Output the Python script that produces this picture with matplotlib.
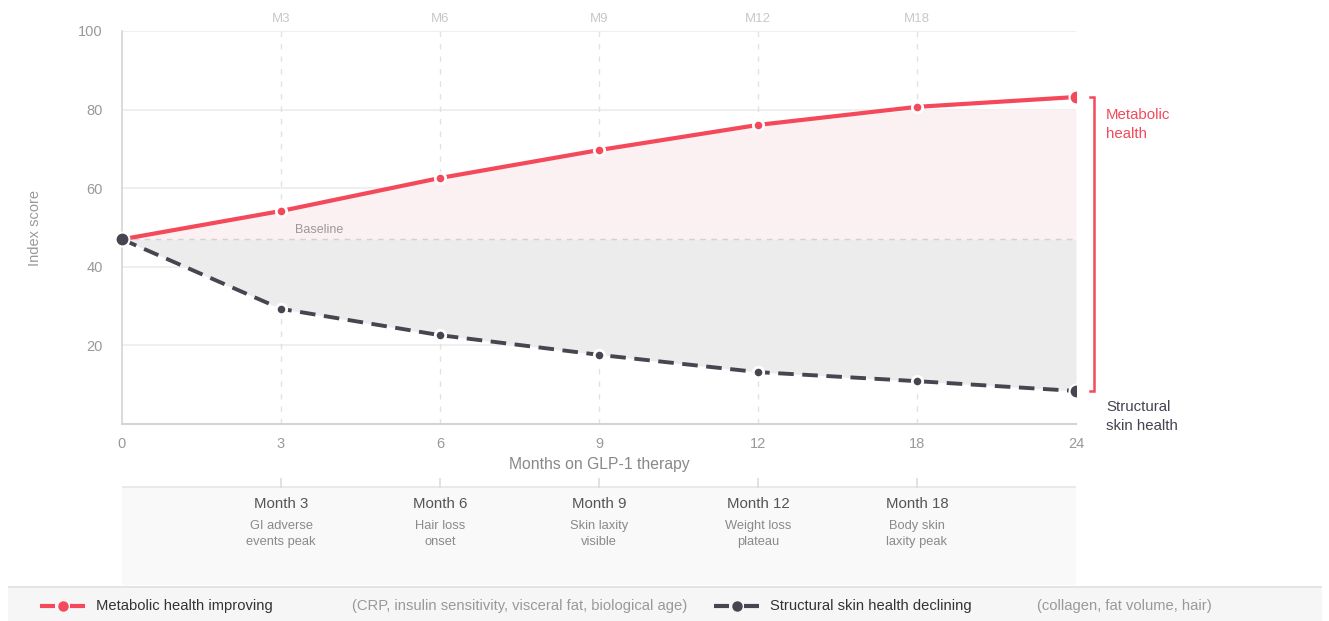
import matplotlib
matplotlib.use("Agg")
import matplotlib.pyplot as plt
from matplotlib.lines import Line2D
import numpy as np

plt.rcParams['font.family'] = ['Liberation Sans', 'DejaVu Sans']

# ---- data ----
months = [0, 3, 6, 9, 12, 18, 24]
metabolic = [47, 54.2, 62.6, 69.7, 76.1, 80.7, 83.2]
skin = [47, 29.3, 22.6, 17.6, 13.2, 10.9, 8.4]
baseline = 47
top_labels = ["M3", "M6", "M9", "M12", "M18"]
event_titles = ["Month 3", "Month 6", "Month 9", "Month 12", "Month 18"]
event_notes = ["GI adverse\nevents peak", "Hair loss\nonset", "Skin laxity\nvisible",
               "Weight loss\nplateau", "Body skin\nlaxity peak"]
y_ticks = [20, 40, 60, 80, 100]

RED = "#f4495b"
DARK = "#464650"
W, H = 1329, 621

fig = plt.figure(figsize=(W / 100, H / 100), dpi=100)
fig.patch.set_facecolor("white")

def fx(px):
    return px / W

def fy(py):
    return 1 - py / H

# ---- main chart ----
ax = fig.add_axes([fx(122), fy(424), fx(1076) - fx(122), fy(31) - fy(424)])
xi = np.arange(len(months))
ax.set_xlim(0, len(months) - 1)
ax.set_ylim(0, 100)

for sp in ["top", "right"]:
    ax.spines[sp].set_visible(False)
ax.spines["left"].set_color("#d4d4d4")
ax.spines["bottom"].set_color("#d4d4d4")
ax.spines["left"].set_linewidth(1.2)
ax.spines["bottom"].set_linewidth(1.5)

for yv in y_ticks:
    ax.axhline(yv, color="#ececec", lw=1.2, zorder=0)
for x in xi[1:-1]:
    ax.axvline(x, color="#e2e2e2", lw=1, ls=(0, (4, 5)), zorder=0)

# shaded areas
ax.fill_between(xi, baseline, np.minimum(metabolic, 80), color="#fcf1f2", lw=0, zorder=1)
ax.fill_between(xi, skin, baseline, color="#ececec", lw=0, zorder=1)
ax.axhline(baseline, color="#d2d2d2", lw=1, ls=(0, (4, 4)), zorder=2)
ax.text(1.09, baseline + 0.9, "Baseline", color="#999999", fontsize=9, va="bottom", ha="left")

# series lines
ax.plot(xi, metabolic, color=RED, lw=3, zorder=4, solid_capstyle="round")
ax.plot(xi, skin, color=DARK, lw=2.8, ls=(0, (4, 2.2)), zorder=4)

ax.plot(xi[1:-1], metabolic[1:-1], "o", ms=7.5, color=RED, mec="white", mew=2, zorder=5)
ax.plot(xi[1:-1], skin[1:-1], "o", ms=7.5, color=DARK, mec="white", mew=2, zorder=5)
ax.plot(xi[-1], metabolic[-1], "o", ms=10, color=RED, mec="white", mew=1.5, zorder=6)
ax.plot(xi[-1], skin[-1], "o", ms=10, color=DARK, mec="white", mew=1.5, zorder=6)
ax.plot(xi[0], skin[0], "o", ms=10, color=DARK, mec="white", mew=1.5, zorder=6, clip_on=False)

ax.set_yticks(y_ticks)
ax.set_yticklabels([str(v) for v in y_ticks])
ax.set_xticks(xi)
ax.set_xticklabels([str(m) for m in months])
ax.tick_params(axis="both", length=0, labelsize=10.5, colors="#999999")
ax.tick_params(axis="x", pad=9)
ax.tick_params(axis="y", pad=14)
ax.set_xlabel("Months on GLP-1 therapy", color="#888888", fontsize=11.3, labelpad=5)
ax.set_ylabel("Index score", color="#999999", fontsize=10.5, labelpad=26)

# top month markers
for x, lab in zip(xi[1:-1], top_labels):
    ax.text(x, 101.6, lab, ha="center", va="bottom", color="#c8c8c8", fontsize=9.5, clip_on=False)

# right bracket
bx = 6.115
ax.plot([bx - 0.03, bx, bx, bx - 0.03], [metabolic[-1], metabolic[-1], skin[-1], skin[-1]],
        color=RED, lw=1.8, clip_on=False, solid_joinstyle="miter")
ax.text(6.19, metabolic[-1] - 2.9, "Metabolic\nhealth", color=RED, fontsize=10.8, va="top",
        ha="left", linespacing=1.4)
ax.text(6.19, skin[-1] - 2.4, "Structural\nskin health", color="#444450", fontsize=10.8,
        va="top", ha="left", linespacing=1.4)

# ---- event panel ----
ev = fig.add_axes([fx(122), fy(585), fx(1076) - fx(122), fy(478) - fy(585)])
ev.set_xlim(0, len(months) - 1)
ev.set_ylim(0, 107)
ev.axis("off")
ev.add_patch(plt.Rectangle((0, 0), len(months) - 1, 98, color="#f9f9f9", lw=0))
ev.plot([0, len(months) - 1], [98, 98], color="#e6e6e6", lw=1.2)
for x, t, n in zip(xi[1:-1], event_titles, event_notes):
    ev.plot([x, x], [98, 107], color="#dddddd", lw=1.2)
    ev.text(x, 81, t, ha="center", va="center", color="#555555", fontsize=10.8)
    ev.text(x, 65, n, ha="center", va="top", color="#8a8a8a", fontsize=9.3, linespacing=1.45)

# ---- legend band ----
lg = fig.add_axes([fx(8), 0, fx(1322) - fx(8), fy(586)])
lg.set_xlim(8, 1322)
lg.set_ylim(0, 1)
lg.axis("off")
lg.add_patch(plt.Rectangle((8, 0), 1314, 1, color="#f6f6f6", lw=0))
lg.plot([8, 1322], [1, 1], color="#e3e3e3", lw=2)
ly = 0.43
lg.add_line(Line2D([40, 85], [ly, ly], color=RED, lw=3, ls=(0, (3.6, 3.6))))
lg.plot(62.5, ly, "o", ms=6.5, color=RED)
lg.text(96, ly, "Metabolic health improving", va="center", color="#333333", fontsize=10.6)
lg.text(352, ly, "(CRP, insulin sensitivity, visceral fat, biological age)", va="center",
        color="#999999", fontsize=10.6)
lg.add_line(Line2D([714, 759], [ly, ly], color=DARK, lw=3, ls=(0, (3.6, 3.6))))
lg.plot(736.5, ly, "o", ms=6.5, color=DARK)
lg.text(770, ly, "Structural skin health declining", va="center", color="#333333", fontsize=10.6)
lg.text(1037, ly, "(collagen, fat volume, hair)", va="center", color="#999999", fontsize=10.6)

fig.savefig("out.png", dpi=100, facecolor="white")
